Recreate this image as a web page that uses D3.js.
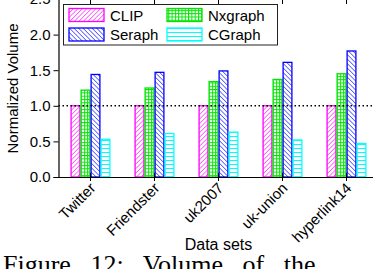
<!DOCTYPE html>
<html>
<head>
<meta charset="utf-8">
<script src="https://cdn.jsdelivr.net/npm/d3@7"></script>
<style>
  body { margin: 0; background: #fff; }
  svg { display: block; font-family: "Liberation Sans", Arial, sans-serif; }
</style>
</head>
<body>
<div id="chart"></div>
<script>
// Normalized volume per data set

const width = 373,
    height = 269;

const margin = {top: -1, left: 58.5, bottom: 177}
const plotRight = 378.5

// data
const datasets = ["Twitter", "Friendster", "uk2007", "uk-union", "hyperlink14"]
const systems = ["CLIP", "Nxgraph", "Seraph", "CGraph"]
const clip    = [1.0, 1.0, 1.0, 1.0, 1.0]
const nxgraph = [1.22, 1.25, 1.34, 1.37, 1.45]
const seraph  = [1.44, 1.47, 1.49, 1.61, 1.77]
const cgraph  = [0.53, 0.61, 0.63, 0.52, 0.47]
const yTicks  = [0.0, 0.5, 1.0, 1.5, 2.0, 2.5]

const seriesValues = {CLIP: clip, Nxgraph: nxgraph, Seraph: seraph, CGraph: cgraph}

const colors = {CLIP: "#ff00ff", Nxgraph: "#00e600", Seraph: "#0000ff", CGraph: "#00ffff"}

let svg = d3.select("#chart")
  .append("svg")
    .attr("width", width)
    .attr("height", height)

// hatch patterns
const defs = svg.append("defs")

function hatch(id, color, angle, step) {
  const p = defs.append("pattern")
    .attr("id", id)
    .attr("patternUnits", "userSpaceOnUse")
    .attr("width", step)
    .attr("height", step)
    .attr("patternTransform", `rotate(${angle})`)
  p.append("rect").attr("width", step).attr("height", step).attr("fill", "white")
  p.append("line")
    .attr("x1", 0).attr("y1", 0).attr("x2", 0).attr("y2", step)
    .attr("stroke", color).attr("stroke-width", 1.1)
}
hatch("pat-CLIP", colors.CLIP, 45, 3.2)
hatch("pat-Seraph", colors.Seraph, -45, 3.2)

// horizontal lines
const ph = defs.append("pattern")
  .attr("id", "pat-CGraph")
  .attr("patternUnits", "userSpaceOnUse")
  .attr("width", 4).attr("height", 4)
ph.append("rect").attr("width", 4).attr("height", 4).attr("fill", "white")
ph.append("line").attr("x1", 0).attr("x2", 4).attr("y1", 0.5).attr("y2", 0.5)
  .attr("stroke", colors.CGraph).attr("stroke-width", 1.1)

// grid
const pg = defs.append("pattern")
  .attr("id", "pat-Nxgraph")
  .attr("patternUnits", "userSpaceOnUse")
  .attr("width", 3.3).attr("height", 3.3)
pg.append("rect").attr("width", 3.3).attr("height", 3.3).attr("fill", "white")
pg.append("line").attr("x1", 0).attr("x2", 3.3).attr("y1", 0.5).attr("y2", 0.5)
  .attr("stroke", colors.Nxgraph).attr("stroke-width", 1)
pg.append("line").attr("y1", 0).attr("y2", 3.3).attr("x1", 0.5).attr("x2", 0.5)
  .attr("stroke", colors.Nxgraph).attr("stroke-width", 1)

// scales
let x0 = d3.scaleBand()
  .domain(datasets)
  .range([margin.left, plotRight])

let x1 = d3.scaleBand()
  .domain(systems)
  .range([-20, 20])

let y = d3.scaleLinear()
  .domain([0, 2.5])
  .range([margin.bottom, margin.top])

// bars
let groups = svg.selectAll("g.grp")
  .data(datasets)
  .join("g")
    .attr("class", "grp")
    .attr("transform", d => `translate(${x0(d) + x0.bandwidth() / 2}, 0)`)

groups.selectAll("rect")
  .data((d, i) => systems.map(s => ({s: s, v: seriesValues[s][i]})))
  .join("rect")
    .attr("x", d => x1(d.s) + 0.6)
    .attr("width", x1.bandwidth() - 1.2)
    .attr("y", d => y(d.v))
    .attr("height", d => y(0) - y(d.v))
    .attr("fill", d => `url(#pat-${d.s})`)
    .attr("stroke", d => colors[d.s])
    .attr("stroke-width", 1.3)

// reference line at 1.0
svg.append("line")
  .attr("x1", margin.left)
  .attr("x2", plotRight)
  .attr("y1", y(1))
  .attr("y2", y(1))
  .attr("stroke", "#000")
  .attr("stroke-width", 1.5)
  .attr("stroke-dasharray", "1.5,2.5")

// axes
let yAxis = svg.append("g")
  .attr("transform", `translate(${margin.left}, 0)`)
  .call(d3.axisLeft(y).tickValues(yTicks).tickFormat(d3.format(".1f")).tickSize(5).tickPadding(3))
yAxis.select(".domain").attr("stroke-width", 1.2)
yAxis.selectAll("text").attr("font-size", 15).attr("fill", "#000").attr("font-family", null)

let xAxis = svg.append("g")
  .attr("transform", `translate(0, ${margin.bottom})`)
  .call(d3.axisBottom(x0).tickSize(4).tickSizeInner(4).tickSizeOuter(0))
xAxis.select(".domain").attr("stroke-width", 1.2)
xAxis.selectAll(".tick line").attr("y1", -4).attr("y2", 4)
xAxis.selectAll("text")
  .attr("font-size", 15)
  .attr("font-family", null)
  .attr("fill", "#000")
  .attr("text-anchor", "end")
  .attr("dy", null)
  .attr("y", 0)
  .attr("transform", "translate(6, 12) rotate(-45)")

// top ticks
let topAxis = svg.append("g")
  .attr("transform", `translate(0, ${margin.top})`)
  .call(d3.axisTop(x0).tickSize(-5).tickFormat(""))
topAxis.select(".domain").remove()

// axis titles
svg.append("text")
  .attr("transform", `translate(18, ${margin.bottom / 2}) rotate(-90)`)
  .attr("text-anchor", "middle")
  .attr("font-size", 15)
  .text("Normalized Volume")

svg.append("text")
  .attr("x", (margin.left + plotRight) / 2)
  .attr("y", 250)
  .attr("text-anchor", "middle")
  .attr("font-size", 16)
  .text("Data sets")

// legend
svg.append("rect")
  .attr("x", 63.5).attr("y", 4.5)
  .attr("width", 214).attr("height", 40.5)
  .attr("fill", "white")
  .attr("stroke", "#222")
  .attr("stroke-width", 1)
const legend = svg.append("g")

const legendPos = [
  {s: "CLIP", x: 69, y: 8.5},
  {s: "Nxgraph", x: 167, y: 8.5},
  {s: "Seraph", x: 69, y: 28},
  {s: "CGraph", x: 167, y: 28}
]
legend.selectAll("rect")
  .data(legendPos)
  .join("rect")
    .attr("x", d => d.x)
    .attr("y", d => d.y)
    .attr("width", 35)
    .attr("height", 13)
    .attr("fill", d => `url(#pat-${d.s})`)
    .attr("stroke", d => colors[d.s])
    .attr("stroke-width", 1.3)
legend.selectAll("text")
  .data(legendPos)
  .join("text")
    .attr("x", d => d.x + 41)
    .attr("y", d => d.y + 12)
    .attr("font-size", 15)
    .text(d => d.s)

// caption (cut off at the bottom in the original)
svg.append("text")
  .attr("x", 3)
  .attr("y", 273)
  .attr("font-family", "'Liberation Serif', 'Times New Roman', serif")
  .attr("font-size", 26)
  .attr("word-spacing", 13)
  .text("Figure 12: Volume of the")
</script>
</body>
</html>
